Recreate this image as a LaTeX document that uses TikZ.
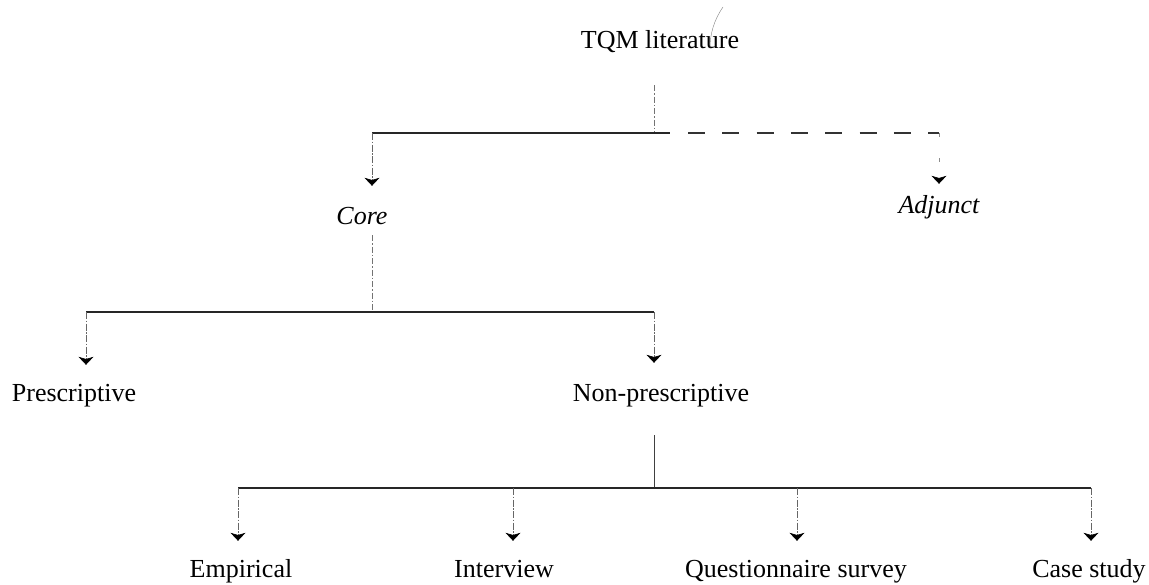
\documentclass[tikz,border=0pt]{standalone}
\usepackage{fontspec}
\setmainfont{Liberation Serif}
\usetikzlibrary{arrows.meta}
\begin{document}
\begin{tikzpicture}[x=1pt,y=-1pt,
  lbl/.style={anchor=base,inner sep=0pt,text height=17pt,text depth=5pt,
    font=\fontsize{26}{30}\selectfont},
  lbli/.style={lbl,font=\fontsize{26}{30}\selectfont\itshape},
  bar/.style={line width=1.3pt,black!85},
  stem/.style={line width=0.8pt,black!75},
  faintstem/.style={line width=0.8pt,black!55,dash pattern=on 6pt off 2pt on 1.5pt off 2pt},
  tip/.style={-{Stealth[width=15pt,length=8pt,inset=2.2pt,black]}},
  drop/.style={tip,line width=0.7pt,black!60,
    dash pattern=on 7pt off 1.5pt on 1.5pt off 1.5pt},
  dashbar/.style={line width=1.2pt,black!80,dash pattern=on 17pt off 17.3pt},
  ]
\useasboundingbox (0,0) rectangle (1149,584);

% labels
\node[lbl]  (tqm)  at (660,48)  {TQM literature};
\node[lbli] (core) at (362,224) {Core};
\node[lbli] (adj)  at (939,213) {Adjunct};
\node[lbl]  (pres) at (74,401)  {Prescriptive};
\node[lbl]  (nonp) at (661,401) {Non-prescriptive};
\node[lbl]  (emp)  at (241,577) {Empirical};
\node[lbl]  (intv) at (504,577) {Interview};
\node[lbl]  (qs)   at (796,577) {Questionnaire survey};
\node[lbl]  (cs)   at (1089,577) {Case study};

% junction points
\coordinate (t1) at (654,133);
\coordinate (tL) at (372,133);
\coordinate (tS) at (670,133);
\coordinate (tD) at (688,133);
\coordinate (tR) at (939,133);
\coordinate (c1) at (372,312);
\coordinate (cL) at (86,312);
\coordinate (cR) at (654,312);
\coordinate (n1) at (654,488);
\coordinate (b1) at (238,488);
\coordinate (b2) at (513,488);
\coordinate (b3) at (797,488);
\coordinate (b4) at (1091,488);

% TQM literature -> Core / Adjunct
\draw[faintstem] ([yshift=-32pt]tqm.south -| t1) -- (t1);
\draw[bar] (tL) -- (tS);
\draw[dashbar] (tD) -- (tR);
\draw[tip,line width=0.7pt,black!45,dash pattern=on 4pt off 21pt]
  (tR) -- ([yshift=12pt]adj.north);
\draw[drop,shorten >=21pt] (tL) -- (tL |- core.north);

% Core -> Prescriptive / Non-prescriptive
\draw[faintstem] ([yshift=-6pt]core.south -| c1) -- (c1);
\draw[bar] (cL) -- (cR);
\draw[drop,shorten >=19pt] (cL) -- (cL |- pres.north);
\draw[drop,shorten >=21pt] (cR) -- (cR |- nonp.north);

% Non-prescriptive -> methods
\draw[stem] ([yshift=-29pt]nonp.south -| n1) -- (n1);
\draw[bar] (b1) -- (b4);
\draw[drop,shorten >=19pt] (b1) -- (b1 |- emp.north);
\draw[drop,shorten >=19pt] (b2) -- (b2 |- intv.north);
\draw[drop,shorten >=19pt] (b3) -- (b3 |- qs.north);
\draw[drop,shorten >=19pt] (b4) -- (b4 |- cs.north);

% pen stroke across the title
\draw[black!50,line width=0.4pt] (723,7) .. controls (714,20) and (710,34) .. (710,48);
\end{tikzpicture}
\end{document}
